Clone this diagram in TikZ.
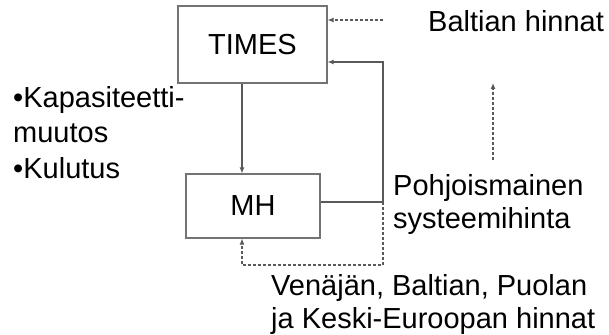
\documentclass[tikz,border=0pt]{standalone}
\usepackage{fontspec}
\setmainfont{Liberation Sans}
\usetikzlibrary{arrows.meta}
\begin{document}
\begin{tikzpicture}[x=1pt,y=-1pt,
  every node/.style={font=\fontsize{29}{33}\selectfont},
  boxst/.style={draw=black!55, line width=1.2pt, inner sep=0pt},
  lbl/.style={inner sep=0pt, anchor=base west, align=left},
  conn/.style={draw=black!65, line width=1.1pt, -{Latex[length=6pt,width=5pt]}},
  dconn/.style={conn, dash pattern=on 3pt off 2pt}]
\useasboundingbox (0,0) rectangle (609,334);
\node[boxst, minimum width=149pt, minimum height=77pt] (TIMES) at (252.5,44.5) {TIMES};
\node[boxst, minimum width=134pt, minimum height=64pt] (MH) at (253,206) {MH};
\node[lbl] (balt) at (428,32) {Baltian hinnat};
\node[lbl, font=\fontsize{29}{35.5}\selectfont] (left) at (13,178) {•Kapasiteetti-\\muutos\\•Kulutus};
\node[lbl] (pohj) at (393,228) {Pohjoismainen\\systeemihinta};
\node[lbl] (ven) at (271,328) {Venäjän, Baltian, Puolan\\ja Keski-Euroopan hinnat};
\coordinate (j) at (383,202);
\coordinate (tin) at (327,62);
\coordinate (arx) at (242,0);
\coordinate (bot) at (383,265);
\coordinate (bstart) at (383,20);
\coordinate (vstart) at (493,160);
\coordinate (vend) at (493,83);
\draw[conn] (TIMES.south -| arx) -- (MH.north -| arx);
\draw[conn] (MH.east |- j) -- (j) -- (j |- tin) -- (TIMES.east |- tin);
\draw[dconn] (j) -- (bot) -- (bot -| arx) -- (MH.south -| arx);
\draw[dconn] (bstart) -- (TIMES.east |- bstart);
\draw[dconn] (vstart) -- (vend);
\end{tikzpicture}
\end{document}
